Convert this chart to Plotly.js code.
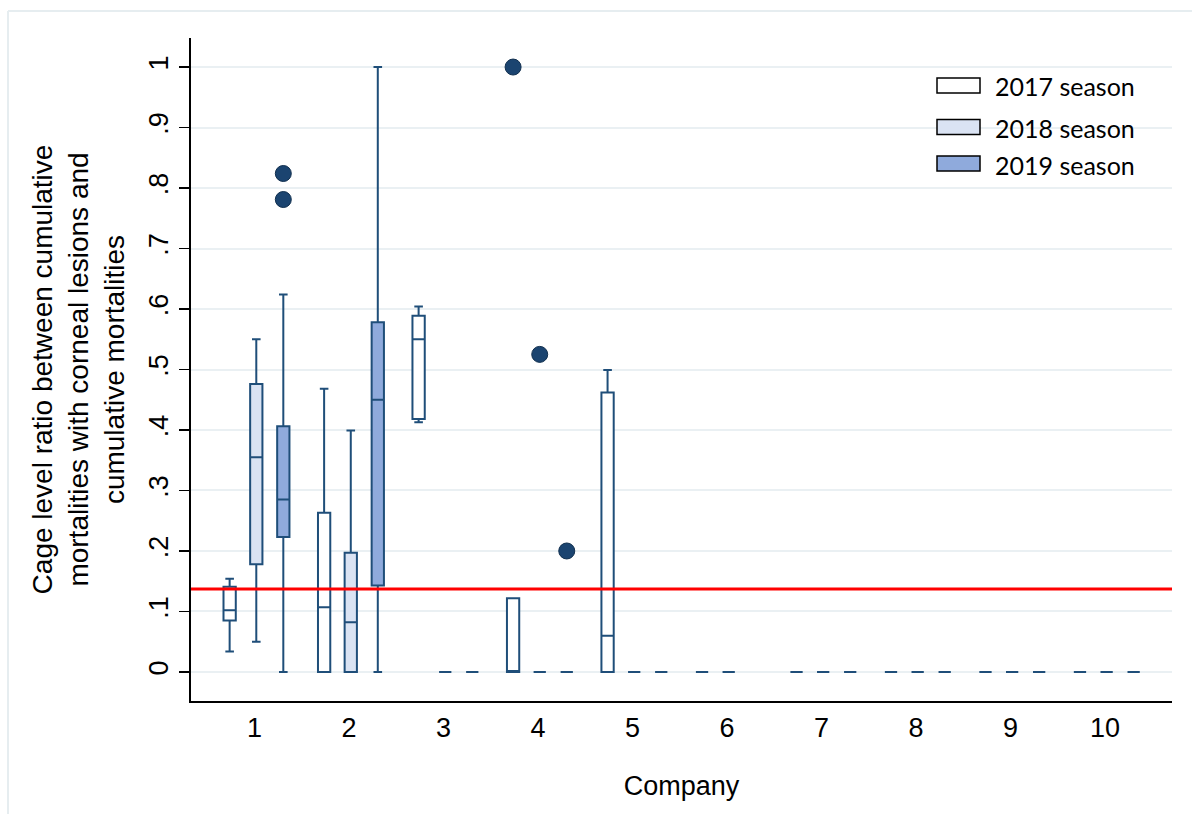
<!DOCTYPE html>
<html>
<head>
<meta charset="utf-8">
<script src="https://cdn.plot.ly/plotly-3.0.1.min.js"></script>
<style>
  html, body { margin: 0; padding: 0; background: #ffffff; }
  #chart { width: 1192px; height: 814px; }
</style>
</head>
<body>
<div id="chart"></div>
<script>
// ---- Data ----
const companies = [1, 2, 3, 4, 5, 6, 7, 8, 9, 10];
const seasons = ["2017 season", "2018 season", "2019 season"];

// 2017 season (per company)
const lower2017  = [0.034, 0.000, 0.413, 0.000, 0.000, 0, 0, 0, 0, 0];
const q1_2017    = [0.085, 0.000, 0.418, 0.000, 0.000, 0, 0, 0, 0, 0];
const median2017 = [0.102, 0.107, 0.550, 0.000, 0.060, 0, 0, 0, 0, 0];
const q3_2017    = [0.141, 0.263, 0.589, 0.122, 0.462, 0, 0, 0, 0, 0];
const upper2017  = [0.154, 0.468, 0.604, 0.122, 0.499, 0, 0, 0, 0, 0];

// 2018 season
const lower2018  = [0.050, 0.000, 0, 0, 0, 0, 0, 0, 0, 0];
const q1_2018    = [0.178, 0.000, 0, 0, 0, 0, 0, 0, 0, 0];
const median2018 = [0.355, 0.082, 0, 0, 0, 0, 0, 0, 0, 0];
const q3_2018    = [0.476, 0.197, 0, 0, 0, 0, 0, 0, 0, 0];
const upper2018  = [0.550, 0.399, 0, 0, 0, 0, 0, 0, 0, 0];

// 2019 season (company 6 has no 2019 data)
const lower2019  = [0.000, 0.000, 0, 0, 0, null, 0, 0, 0, 0];
const q1_2019    = [0.223, 0.143, 0, 0, 0, null, 0, 0, 0, 0];
const median2019 = [0.285, 0.450, 0, 0, 0, null, 0, 0, 0, 0];
const q3_2019    = [0.406, 0.578, 0, 0, 0, null, 0, 0, 0, 0];
const upper2019  = [0.624, 1.000, 0, 0, 0, null, 0, 0, 0, 0];

// Outside values
const outlierCompany2017 = [4];
const outlierValue2017   = [1.0];
const outlierCompany2018 = [4];
const outlierValue2018   = [0.525];
const outlierCompany2019 = [1, 1, 4];
const outlierValue2019   = [0.824, 0.781, 0.200];

// Reference line
const threshold = 0.137;

// Axis tick labels
const yTickVals = [0, 0.1, 0.2, 0.3, 0.4, 0.5, 0.6, 0.7, 0.8, 0.9, 1];
const yTickText = ["0", ".1", ".2", ".3", ".4", ".5", ".6", ".7", ".8", ".9", "1"];
const xTickText = ["1", "2", "3", "4", "5", "6", "7", "8", "9", "10"];

// ---- Styling ----
const FONT = "'Liberation Sans', Arial, sans-serif";
const seasonOffset = [-0.264, 0.018, 0.304];
const seasonFill = ["#ffffff", "#dae3f3", "#8faadc"];
const lineColor = "#1f4e79";
const dotColor = "#1b4470";

const stats = [
  [lower2017, q1_2017, median2017, q3_2017, upper2017],
  [lower2018, q1_2018, median2018, q3_2018, upper2018],
  [lower2019, q1_2019, median2019, q3_2019, upper2019]
];
const outliers = [
  [outlierCompany2017, outlierValue2017],
  [outlierCompany2018, outlierValue2018],
  [outlierCompany2019, outlierValue2019]
];

const traces = [];
stats.forEach((s, k) => {
  const idx = companies.map((c, i) => i).filter(i => s[2][i] !== null);
  traces.push({
    type: "box",
    name: seasons[k],
    x: idx.map(i => companies[i] + seasonOffset[k]),
    lowerfence: idx.map(i => s[0][i]),
    q1: idx.map(i => s[1][i]),
    median: idx.map(i => s[2][i]),
    q3: idx.map(i => s[3][i]),
    upperfence: idx.map(i => s[4][i]),
    width: 0.13,
    whiskerwidth: 0.7,
    fillcolor: seasonFill[k],
    line: { color: lineColor, width: 2 },
    boxpoints: false,
    showlegend: false,
    hoverinfo: "skip"
  });
});
outliers.forEach((o, k) => {
  traces.push({
    type: "scatter",
    mode: "markers",
    x: o[0].map(c => c + seasonOffset[k]),
    y: o[1],
    marker: { size: 16, color: dotColor, line: { color: "#12304f", width: 1 } },
    showlegend: false,
    hoverinfo: "skip"
  });
});

// pixel -> paper helpers for the plot box (left 191, right 1172, top 38, bottom 701)
const PL = 191, PR = 1172, PT = 38, PB = 701;
const px = v => (v - PL) / (PR - PL);
const py = v => (PB - v) / (PB - PT);

const shapes = [
  { type: "line", xref: "paper", yref: "y", x0: 0, x1: 1, y0: threshold, y1: threshold,
    line: { color: "#ff0000", width: 3 }, layer: "above" },
  // outer graph region border (top and left)
  { type: "line", xref: "paper", yref: "paper", x0: px(8), x1: px(1192), y0: py(11), y1: py(11),
    line: { color: "#e6edf0", width: 2 } },
  { type: "line", xref: "paper", yref: "paper", x0: px(8), x1: px(8), y0: py(11), y1: py(814),
    line: { color: "#e6edf0", width: 2 } }
];
const annotations = [];
const legendRows = [85.5, 127, 163.5];
seasons.forEach((s, k) => {
  const yc = legendRows[k];
  shapes.push({ type: "rect", xref: "paper", yref: "paper",
    x0: px(937), x1: px(980), y0: py(yc - 7.5), y1: py(yc + 7.5),
    fillcolor: seasonFill[k], line: { color: "#000000", width: 1.5 } });
  annotations.push({ xref: "paper", yref: "paper", x: px(993), y: py(yc + 1),
    xanchor: "left", yanchor: "middle", text: s, showarrow: false,
    font: { family: "Lato, 'Open Sans', sans-serif", size: 25, color: "#000000" } });
});

const layout = {
  width: 1192, height: 814,
  margin: { l: PL, r: 1192 - PR, t: PT, b: 814 - PB, pad: 0 },
  paper_bgcolor: "#ffffff", plot_bgcolor: "#ffffff",
  font: { family: FONT, color: "#000000" },
  showlegend: false,
  xaxis: {
    range: [0.327, 10.71],
    tickmode: "array", tickvals: companies, ticktext: xTickText,
    ticks: "", showgrid: false, zeroline: false,
    showline: true, linecolor: "#000000", linewidth: 2,
    tickfont: { family: FONT, size: 27, color: "#000000" }, ticklabelstandoff: 2,
    title: { text: "Company", font: { family: FONT, size: 27, color: "#000000" }, standoff: 34 }
  },
  yaxis: {
    range: [-0.048, 1.048],
    tickmode: "array", tickvals: yTickVals, ticktext: yTickText,
    tickangle: -90, ticks: "outside", ticklen: 10, tickwidth: 1.5, tickcolor: "#000000",
    showgrid: true, gridcolor: "#eaf0f3", gridwidth: 2, zeroline: false,
    showline: true, linecolor: "#000000", linewidth: 2,
    tickfont: { family: FONT, size: 27, color: "#000000" },
    title: { text: "Cage level ratio between cumulative<br>mortalities with corneal lesions and<br>cumulative mortalities",
             font: { family: FONT, size: 28, color: "#000000" }, standoff: 11 }
  },
  boxmode: "overlay",
  shapes: shapes,
  annotations: annotations
};

Plotly.newPlot("chart", traces, layout, { displayModeBar: false, staticPlot: true });
</script>
</body>
</html>
